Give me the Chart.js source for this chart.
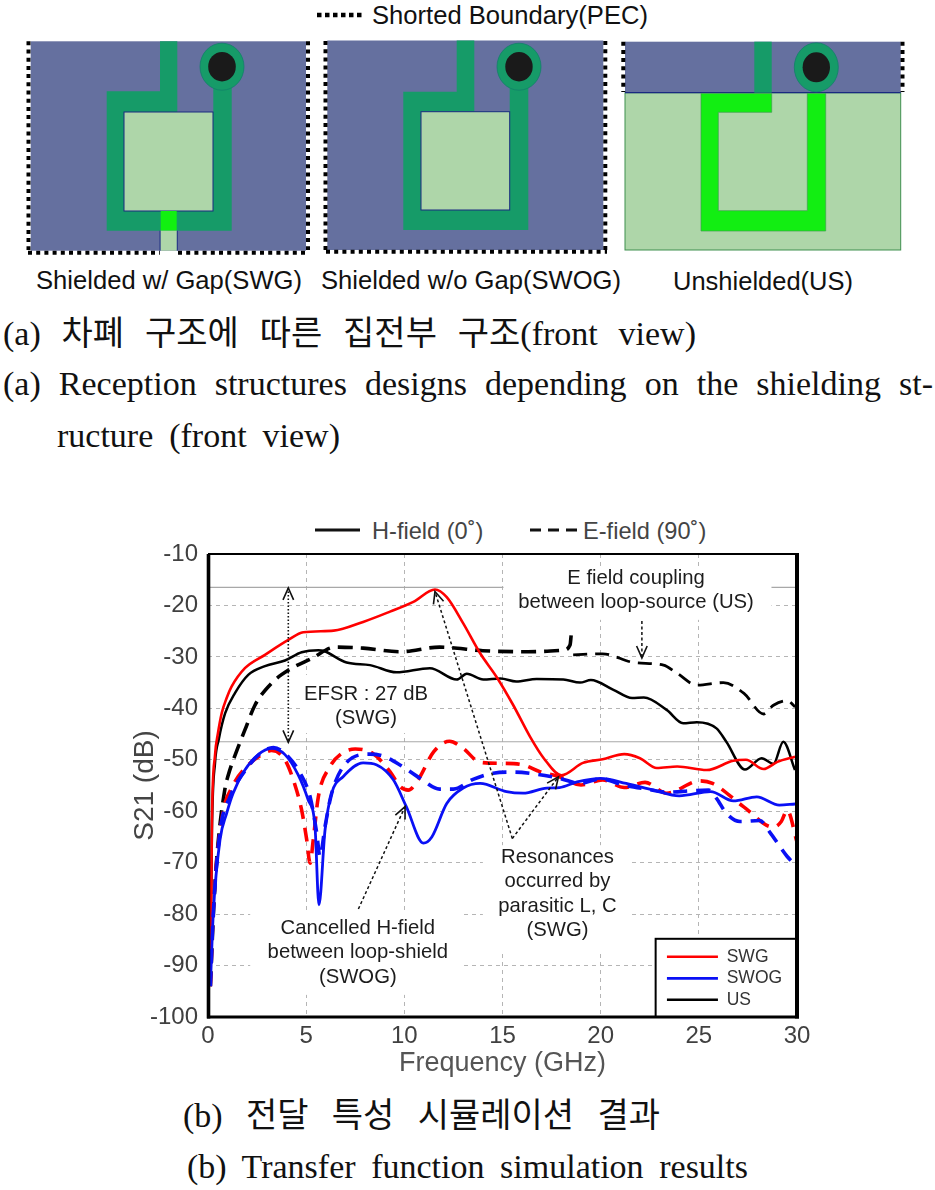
<!DOCTYPE html>
<html><head><meta charset="utf-8">
<script src="https://cdn.jsdelivr.net/npm/chart.js@4"></script>
<style>
html,body{margin:0;padding:0;background:#fff;width:935px;height:1190px;overflow:hidden}
#fig{position:absolute;left:0;top:0}
#plot{position:absolute;left:125px;top:505px}
.cap{position:absolute;font-family:"Liberation Serif","Noto Sans CJK KR",serif;font-size:34px;line-height:40px;color:#111;white-space:normal;text-align:justify;text-align-last:justify}
</style></head><body>
<svg id="fig" width="935" height="1190" xmlns="http://www.w3.org/2000/svg">
 <g font-family="Liberation Sans" fill="#111" font-size="25">
  <line x1="317" x2="362" y1="15" y2="15" stroke="#000" stroke-width="4.5" stroke-dasharray="4.5 3.5"/>
  <text x="372" y="24" textLength="276" lengthAdjust="spacingAndGlyphs">Shorted Boundary(PEC)</text>
  <text x="36" y="289" textLength="266" lengthAdjust="spacingAndGlyphs">Shielded w/ Gap(SWG)</text>
  <text x="321" y="289" textLength="300" lengthAdjust="spacingAndGlyphs">Shielded w/o Gap(SWOG)</text>
  <text x="673" y="290" textLength="180" lengthAdjust="spacingAndGlyphs">Unshielded(US)</text>
 </g>
 <!-- panel 1 -->
 <g>
  <rect x="30.7" y="41.3" width="275.3" height="209.4" fill="#65709f"/>
  <polygon points="106.7,91.3 160,91.3 160,41.3 177.3,41.3 177.3,112 213.3,112 213.3,66 231.7,66 231.7,230.7 106.7,230.7" fill="#169b68"/>
  <ellipse cx="222" cy="66.7" rx="22" ry="23.5" fill="#169b68" stroke="#12806a" stroke-width="0.8"/>
  <ellipse cx="222" cy="66.7" rx="13.8" ry="14.7" fill="#1a1a1a"/>
  <rect x="124" y="112" width="89" height="99" fill="#aed6a9" stroke="#1a2a80" stroke-width="1"/>
  <rect x="160.7" y="211" width="16" height="19.7" fill="#12f010"/>
  <rect x="160.5" y="230.7" width="16.4" height="20" fill="#aed6a9"/>
  <path d="M160 230.7V250.7M177.3 230.7V250.7" stroke="#1a2a80" stroke-width="0.9"/>
  <g stroke="#000" stroke-width="4" stroke-dasharray="4 4.2" fill="none">
   <line x1="28.5" x2="28.5" y1="41.3" y2="250"/>
   <line x1="308" x2="308" y1="41.3" y2="250"/>
   <line x1="28" x2="160" y1="252.7" y2="252.7"/>
   <line x1="178" x2="306" y1="252.7" y2="252.7"/>
  </g>
 </g>
 <!-- panel 2 -->
 <g>
  <rect x="327.3" y="40.5" width="276" height="209.5" fill="#65709f"/>
  <polygon points="403.3,91.7 456.7,91.7 456.7,40.5 474.3,40.5 474.3,111.7 509.7,111.7 509.7,66 528.3,66 528.3,230 403.3,230" fill="#169b68"/>
  <ellipse cx="519" cy="66.7" rx="22" ry="23.5" fill="#169b68" stroke="#12806a" stroke-width="0.8"/>
  <ellipse cx="519" cy="66.7" rx="13.7" ry="14.7" fill="#1a1a1a"/>
  <rect x="421" y="111.7" width="88.7" height="98.3" fill="#aed6a9" stroke="#1a2a80" stroke-width="1"/>
  <g stroke="#000" stroke-width="4" stroke-dasharray="4 4.2" fill="none">
   <line x1="325.5" x2="325.5" y1="41" y2="250"/>
   <line x1="605.3" x2="605.3" y1="41" y2="250"/>
   <line x1="326" x2="607" y1="251.8" y2="251.8"/>
  </g>
 </g>
 <!-- panel 3 -->
 <g>
  <rect x="625" y="92.7" width="275.7" height="157.3" fill="#aed6a9" stroke="#3f8f4f" stroke-width="1"/>
  <rect x="625" y="41.7" width="275.7" height="51" fill="#65709f"/>
  <line x1="625" x2="900.7" y1="92.7" y2="92.7" stroke="#1a2a80" stroke-width="1.2"/>
  <rect x="754.3" y="41.7" width="17.4" height="51" fill="#169b68"/>
  <ellipse cx="816.3" cy="67.3" rx="22" ry="24.5" fill="#169b68" stroke="#12806a" stroke-width="0.8"/>
  <ellipse cx="816.3" cy="67.3" rx="13.7" ry="15" fill="#1a1a1a"/>
  <polygon points="701,93.4 771.7,93.4 771.7,112.3 718.3,112.3 718.3,210.7 807.3,210.7 807.3,93.4 825.7,93.4 825.7,231 701,231" fill="#12ee12" stroke="#3f9f4f" stroke-width="0.7"/>
  <g stroke="#000" stroke-width="4" stroke-dasharray="4 4.2" fill="none">
   <line x1="623.3" x2="623.3" y1="41.7" y2="92"/>
   <line x1="902.5" x2="902.5" y1="41.7" y2="92"/>
  </g>
 </g>
 <!-- polarisation key above the plot -->
 <g font-family="Liberation Sans" font-size="23.6" fill="#444">
  <line x1="315" x2="360" y1="530" y2="530" stroke="#111" stroke-width="3"/>
  <text x="372" y="539">H-field (0˚)</text>
  <line x1="530" x2="577" y1="530" y2="530" stroke="#111" stroke-width="3" stroke-dasharray="11 7"/>
  <text x="583" y="539">E-field (90˚)</text>
 </g>
</svg>

<div class="cap" style="left:3px;top:314px;width:693px">(a) 차폐 구조에 따른 집전부 구조(front view)</div>
<div class="cap" style="left:3px;top:364px;width:930px">(a) Reception structures designs depending on the shielding st-</div>
<div class="cap" style="left:57px;top:416px;width:283px">ructure (front view)</div>
<div class="cap" style="left:183px;top:1096px;width:477px">(b) 전달 특성 시뮬레이션 결과</div>
<div class="cap" style="left:187px;top:1147px;width:561px">(b) Transfer function simulation results</div>

<canvas id="plot" width="700" height="590" style="width:700px;height:590px"></canvas>

<script>
const xTicks = [0,5,10,15,20,25,30];
const yTicks = [-100,-90,-80,-70,-60,-50,-40,-30,-20,-10];

const swgH_f  = [0.12,0.2,0.36,0.5,0.7,0.95,1.2,1.88,2.9,4.09,4.85,6.4,7.9,9.27,10.46,11.56,12.16,13,13.86,14.7,15.55,16.4,17.1,18,19.1,20.1,21.2,22,22.86,23.9,25.4,26.75,27.4,28.3,29,29.9];
const swgH_db = [-94,-62,-49,-45,-40.9,-38,-35.8,-32.2,-29.6,-26.7,-25.2,-24.9,-23.2,-21.2,-19.3,-16.9,-18.4,-23.5,-29.3,-33.9,-39.4,-45.5,-49.7,-53,-50.6,-49.9,-48.9,-49.7,-51.6,-51.3,-52,-50.2,-50,-51.8,-50.4,-49.4];

const swogH_f  = [0.12,0.27,0.61,0.95,1.28,1.88,2.56,3.24,3.92,4.6,5.1,5.45,5.65,5.96,6.3,6.88,7.9,8.6,9.44,10.1,10.97,11.4,12.16,13,13.86,15.2,16.05,17.25,17.9,18.8,20,21.3,22.7,24,25.6,26.76,27.95,29.1,29.9];
const swogH_db = [-94,-79.8,-65.6,-60.4,-56.5,-52,-49,-47.8,-49,-53,-57.8,-63,-78.2,-63.7,-56.5,-53.3,-50.6,-51,-53.9,-59.1,-66.2,-65,-58.5,-55.5,-54.6,-56.2,-56.5,-55.5,-55.4,-54.3,-53.6,-54.6,-55.9,-57,-56.2,-58,-57.2,-58.8,-58.6];

const usH_f  = [0.12,0.2,0.36,0.55,0.87,1.38,2.05,2.9,3.92,4.77,5.62,5.87,7.06,8.25,9.6,11.3,12.67,13.18,14.02,14.9,15.7,16.74,18.1,18.95,19.5,20.65,21.6,22.2,23.36,24.2,24.9,25.9,26.4,27.35,28.2,28.8,29.3,29.9];
const usH_db = [-94,-64,-50.5,-46,-41,-37,-33.5,-31.8,-30.7,-29.1,-28.7,-28.8,-31.1,-31.6,-33,-32.2,-34.4,-33.3,-34.4,-34.2,-34.8,-34.3,-34.4,-35,-34.5,-36.4,-38,-37.9,-40.3,-42.9,-42.7,-43.9,-46.5,-51.9,-49.7,-50.8,-46.5,-52];

const swgE_f  = [0.12,0.27,0.7,1.29,2.05,2.73,3.24,3.92,4.43,4.77,5.03,5.2,5.36,5.62,6.2,6.8,7.5,8.4,9.27,9.78,10.2,10.7,11.5,12.3,13,13.86,15.04,16.06,16.9,17.9,19,20.1,21.2,22.26,23.36,25.06,25.7,27.27,28.8,29.2,29.5,30];
const swgE_db = [-94,-79,-61.7,-54.9,-51,-49,-48.2,-50,-54.9,-59.8,-65.6,-70.1,-65.6,-57.2,-51.4,-48.8,-47.9,-48.8,-52.3,-55.2,-55.9,-53.9,-48.4,-46.4,-47.8,-50.5,-50.7,-51,-52.3,-53.3,-54.9,-53.9,-55.4,-54.4,-56.5,-54.1,-54.6,-59.1,-63.1,-62,-59.8,-66];

const swogE_f  = [0.12,0.27,0.61,1.12,2.05,2.65,3.33,4.09,4.69,5.2,5.54,5.7,5.96,6.3,7.07,8.25,8.93,9.78,10.8,11.8,12.5,13.5,14.53,15.55,16.74,17.9,18.95,20,21.16,22.35,23.4,24.7,25.5,25.9,26.4,27.1,28.1,28.6,29.5,30];
const swogE_db = [-94,-79.8,-64,-57.2,-51.3,-48.8,-47.6,-49.4,-52.6,-57.2,-64.3,-68.8,-63,-56.5,-50.5,-48.9,-49.3,-51,-53.6,-55.7,-55.7,-53.8,-52.6,-52.4,-52.8,-53.6,-54.6,-53.7,-54.9,-55.7,-56.3,-56,-55.9,-57.5,-60.4,-62,-61.8,-64,-68.8,-70.7];

const usE1_f  = [0.12,0.3,0.47,0.87,1.03,1.54,1.88,2.39,3.24,4.09,5.28,6.47,7.9,9.78,11.8,14,16.3,18.1,18.44,18.5];
const usE1_db = [-94,-78,-68,-55.5,-53,-47.5,-44.2,-39.4,-35.1,-32.6,-30.3,-28.1,-28.3,-29,-28.1,-28.8,-29,-28.7,-27.7,-25.7];
const usE2_f  = [18.6,20.1,21.7,23.2,23.9,24.9,26.25,27.3,28.3,28.8,29.5,29.9];
const usE2_db = [-29.6,-29.4,-31.1,-31.6,-33.2,-35.5,-35,-37.1,-41.1,-39.4,-38.5,-39.7];

const legendNames = ['SWG','SWOG','US'];
const refLevels = [-16.5,-46.5];

const noteTexts = [
  {lines:['EFSR : 27 dB','(SWG)'], f:8.05, db:-37.2},
  {lines:['Cancelled H-field','between loop-shield','(SWOG)'], f:7.63, db:-82.7},
  {lines:['Resonances','occurred by','parasitic L, C','(SWG)'], f:17.8, db:-68.9},
  {lines:['E field coupling','between loop-source (US)'], f:21.8, db:-14.7}
];
const noteMasks = [
  {f:[15.05,28.7], db:[-12.7,-22.8]},
  {f:[4.7,11.3],   db:[-33.5,-44.8]},
  {f:[2.15,13],    db:[-79.2,-95.7]},
  {f:[14,21.4],    db:[-66.6,-87]}
];
const arrows = [
  {from:[4.09,-16.6], to:[4.09,-46.6], both:true, dash:[1.5,2], width:1.6},
  {from:[15.5,-65.3], to:[11.56,-17.3], dash:[3,2.5], width:1.5},
  {from:[15.5,-65.3], to:[17.85,-53.3], dash:[3,2.5], width:1.5},
  {from:[7.66,-79],   to:[10.04,-59.1], dash:[3,2.5], width:1.5},
  {from:[22.1,-23],   to:[22.1,-30.2],  dash:[3,2.5], width:1.5}
];

const pts = (f,db)=>f.map((x,i)=>({x,y:db[i]}));
const RED='#ff0000', BLUE='#0a10f5', BLACK='#000000';
const line=(label,f,db,color,width,order,dash)=>({label,data:pts(f,db),borderColor:color,backgroundColor:color,borderWidth:width,order,borderDash:dash||[],pointRadius:0,cubicInterpolationMode:'monotone',borderCapStyle:'butt'});

const datasets=[
  line('SWG',swgH_f,swgH_db,RED,2.6,5),
  line('SWOG',swogH_f,swogH_db,BLUE,2.8,1),
  line('US',usH_f,usH_db,BLACK,2.5,7),
  line('SWG E-field',swgE_f,swgE_db,RED,3.6,4,[14,9]),
  line('SWOG E-field',swogE_f,swogE_db,BLUE,3.6,2,[14,9]),
  line('US E-field',usE1_f,usE1_db,BLACK,3.6,6,[15,8]),
  line('US E-field (upper band)',usE2_f,usE2_db,BLACK,2.8,6,[14,8])
];

const annotate={
  id:'annotate',
  afterLayout(chart){
    const {x,y}=chart.scales, lg=chart.legend;
    const l=x.getPixelForValue(22.8), r=x.getPixelForValue(30), t=y.getPixelForValue(-84.8), b=y.getPixelForValue(-100);
    lg.left=l+7.3; lg.right=r; lg.top=t+5.25; lg.bottom=b; lg.width=r-lg.left; lg.height=b-lg.top;
    if(!lg._framed){
      const draw=lg.draw;
      lg.draw=function(a){
        const c=chart.ctx; c.save(); c.fillStyle='#fff'; c.strokeStyle='#000'; c.lineWidth=2;
        c.fillRect(l,t,r-l,b-t); c.strokeRect(l,t,r-l,b-t); c.restore();
        draw.call(this,a);
      };
      lg._framed=true;
    }
  },
  beforeDatasetsDraw(chart){
    const {ctx,scales:{x,y}}=chart;
    ctx.save();
    ctx.strokeStyle='#a8a8a8'; ctx.lineWidth=1.2;
    refLevels.forEach(v=>{const p=y.getPixelForValue(v);ctx.beginPath();ctx.moveTo(x.left,p);ctx.lineTo(x.right,p);ctx.stroke();});
    ctx.fillStyle='#fff';
    noteMasks.forEach(m=>{
      const a=x.getPixelForValue(m.f[0]),b=x.getPixelForValue(m.f[1]),c=y.getPixelForValue(m.db[0]),d=y.getPixelForValue(m.db[1]);
      ctx.fillRect(a,c,b-a,d-c);
    });
    ctx.restore();
  },
  afterDatasetsDraw(chart){
    const {ctx,scales:{x,y}}=chart;
    ctx.save();
    arrows.forEach(a=>{
      const x0=x.getPixelForValue(a.from[0]),y0=y.getPixelForValue(a.from[1]),x1=x.getPixelForValue(a.to[0]),y1=y.getPixelForValue(a.to[1]);
      ctx.strokeStyle='#111'; ctx.lineWidth=a.width; ctx.setLineDash(a.dash);
      ctx.beginPath();ctx.moveTo(x0,y0);ctx.lineTo(x1,y1);ctx.stroke();
      ctx.setLineDash([]); ctx.lineWidth=1.6;
      const head=(hx,hy,ang)=>{ctx.beginPath();
        ctx.moveTo(hx-13*Math.cos(ang-0.42),hy-13*Math.sin(ang-0.42));ctx.lineTo(hx,hy);
        ctx.lineTo(hx-13*Math.cos(ang+0.42),hy-13*Math.sin(ang+0.42));ctx.stroke();};
      const ang=Math.atan2(y1-y0,x1-x0);
      head(x1,y1,ang);
      if(a.both) head(x0,y0,ang+Math.PI);
    });
    ctx.fillStyle='#1c1c1c'; ctx.font='20.3px "Liberation Sans"'; ctx.textAlign='center'; ctx.textBaseline='middle';
    noteTexts.forEach(n=>{
      const px=x.getPixelForValue(n.f),py=y.getPixelForValue(n.db);
      n.lines.forEach((t,i)=>ctx.fillText(t,px,py+i*24.6));
    });
    /* plot frame */
    const {left:L,right:R,top:T,bottom:B}=chart.chartArea;
    ctx.strokeStyle='#000';
    [[L+0.5,T,L+0.5,B+1.5,3.6],[L,T,R+2,T,2],[R,T-1,R,B+1.5,4],[L-1,B,R+2,B,3]].forEach(s=>{
      ctx.lineWidth=s[4];ctx.beginPath();ctx.moveTo(s[0],s[1]);ctx.lineTo(s[2],s[3]);ctx.stroke();
    });
    ctx.restore();
  }
};

new Chart(document.getElementById('plot'),{
  type:'line',
  data:{datasets},
  plugins:[annotate],
  options:{
    responsive:false, animation:false, devicePixelRatio:1,
    layout:{padding:{left:0,top:49,right:28,bottom:0}},
    plugins:{
      tooltip:{enabled:false},
      legend:{
        position:'chartArea', align:'start',
        labels:{boxWidth:51,boxHeight:0,padding:4,color:'#333',font:{family:'Liberation Sans',size:17.5},
          sort:(a,b)=>a.datasetIndex-b.datasetIndex,
          filter:item=>legendNames.includes(item.text)}
      }
    },
    scales:{
      x:{type:'linear',min:0,max:30,
        afterBuildTicks(s){s.ticks=xTicks.map(v=>({value:v}));},
        afterFit(s){s.height=78;},
        grid:{color:'#b5b5b5',lineWidth:1,drawTicks:false},
        border:{display:false,dash:[4,4]},
        ticks:{color:'#404040',font:{family:'Liberation Sans',size:24},padding:5,maxRotation:0,callback:v=>String(v)},
        title:{display:true,text:'Frequency (GHz)',color:'#555',font:{family:'Liberation Sans',size:27},padding:{top:0,bottom:15}}
      },
      y:{min:-100,max:-10,
        afterBuildTicks(s){s.ticks=yTicks.map(v=>({value:v}));},
        afterFit(s){s.width=83;},
        grid:{color:'#b5b5b5',lineWidth:1,drawTicks:false},
        border:{display:false,dash:[4,4]},
        ticks:{color:'#404040',font:{family:'Liberation Sans',size:24},padding:10,callback:v=>String(v)},
        title:{display:true,text:'S21 (dB)',color:'#444',font:{family:'Liberation Sans',size:28},padding:{top:3,bottom:0}}
      }
    }
  }
});
</script>
</body></html>
